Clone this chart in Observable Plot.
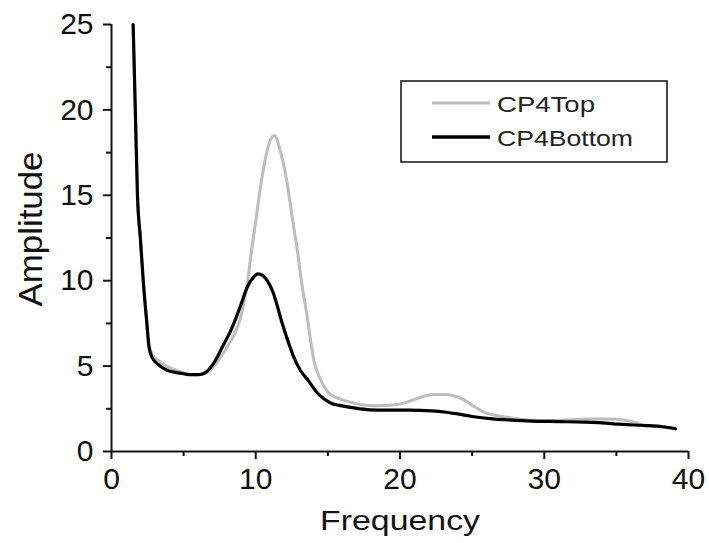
<!DOCTYPE html>
<html><head><meta charset="utf-8">
<script src="https://cdn.jsdelivr.net/npm/d3@7"></script>
<script src="https://cdn.jsdelivr.net/npm/@observablehq/plot@0.6"></script>
<style>html,body{margin:0;padding:0;background:#fff;} #chart svg{display:block}</style>
</head><body><div id="chart"></div>
<script>
const seriesNames = ["CP4Top", "CP4Bottom"];
const seriesColors = ["#bdbdbd", "#000000"];

const topFreq = [1.5, 1.65, 1.8, 2.0, 2.2, 2.45, 2.6, 2.85, 3.3, 3.8, 4.5, 5.0, 5.5, 6.0, 6.5, 7.2, 7.7, 8.14, 8.6, 8.95, 9.41, 9.7, 10.0, 10.33, 10.68, 11.0, 11.3, 11.7, 12.18, 12.53, 12.88, 13.2, 13.57, 13.8, 14.04, 14.5, 14.98, 15.6, 16.3, 17.2, 18.2, 19.5, 20.5, 21.1, 22.3, 23.2, 23.8, 24.5, 25.2, 25.8, 26.75, 27.8, 28.8, 30.5, 33.0, 34.5, 35.5, 36.2, 36.9, 38.2, 39.1];
const topAmp = [25, 20, 15, 12.5, 10, 7.6, 6.3, 5.65, 5.3, 5.0, 4.75, 4.6, 4.5, 4.5, 4.55, 5.1, 5.7, 6.3, 7.0, 7.86, 9.8, 11.7, 13.5, 15.5, 17.2, 18.2, 18.5, 17.6, 15.7, 13.7, 11.8, 9.8, 7.86, 6.5, 5.3, 4.2, 3.5, 3.15, 2.95, 2.75, 2.68, 2.72, 2.89, 3.08, 3.34, 3.34, 3.25, 2.99, 2.6, 2.3, 2.1, 1.95, 1.85, 1.82, 1.9, 1.9, 1.85, 1.72, 1.55, 1.45, 1.33];

const bottomFreq = [1.5, 1.65, 1.8, 2.0, 2.2, 2.45, 2.6, 2.85, 3.3, 3.87, 4.5, 5.0, 5.5, 6.0, 6.5, 7.2, 7.67, 8.25, 8.6, 8.95, 9.4, 9.9, 10.15, 10.5, 10.8, 11.23, 11.5, 11.8, 12.3, 12.6, 13.1, 13.64, 14.2, 14.7, 15.3, 15.8, 16.8, 17.9, 19.0, 20.6, 22.2, 23.2, 24.0, 25.0, 26.4, 27.5, 29.1, 31.0, 32.8, 34.0, 35.2, 36.2, 37.1, 38.2, 39.1];
const bottomAmp = [25, 20, 15, 12.5, 10, 7.5, 6.1, 5.45, 5.05, 4.75, 4.62, 4.55, 4.5, 4.5, 4.62, 5.33, 6.1, 7.05, 7.75, 8.55, 9.6, 10.25, 10.4, 10.3, 10.0, 9.25, 8.5, 7.6, 6.3, 5.6, 4.74, 4.16, 3.5, 3.1, 2.8, 2.7, 2.55, 2.44, 2.42, 2.42, 2.38, 2.3, 2.2, 2.05, 1.91, 1.85, 1.78, 1.75, 1.72, 1.68, 1.6, 1.55, 1.52, 1.45, 1.33];

const xMajorTicks = [0, 10, 20, 30, 40];
const xMinorTicks = [5, 15, 25, 35];
const yMajorTicks = [0, 5, 10, 15, 20, 25];
const yMinorTicks = [2.5, 7.5, 12.5, 17.5, 22.5];
const xLabel = "Frequency";
const yLabel = "Amplitude";

const rows = [
  ...topFreq.map((f, i) => ({series: seriesNames[0], freq: f, amp: topAmp[i]})),
  ...bottomFreq.map((f, i) => ({series: seriesNames[1], freq: f, amp: bottomAmp[i]}))
];

const axisColor = "#111";
const font = "'Liberation Sans', Arial, sans-serif";

const plot = Plot.plot({
  width: 709, height: 543,
  marginLeft: 111, marginRight: 21, marginTop: 24, marginBottom: 92,
  style: {fontFamily: font, background: "#fff", color: axisColor},
  x: {domain: [0, 40]},
  y: {domain: [0, 25]},
  color: {domain: seriesNames, range: seriesColors},
  marks: [
    Plot.line(rows.filter(d => d.series === seriesNames[0]), {x: "freq", y: "amp", stroke: "series", strokeWidth: 3, curve: "monotone-x"}),
    Plot.line(rows.filter(d => d.series === seriesNames[1]), {x: "freq", y: "amp", stroke: "series", strokeWidth: 3.2, curve: "monotone-x"}),
    Plot.ruleX([0], {stroke: axisColor, strokeWidth: 2}),
    Plot.ruleY([0], {stroke: axisColor, strokeWidth: 2}),
    Plot.axisX({ticks: xMajorTicks, tickSize: 8, tickPadding: 8, fontSize: 30, label: null, stroke: axisColor, strokeWidth: 2}),
    Plot.axisX({ticks: xMinorTicks, tickSize: 5, tickFormat: () => "", label: null, stroke: axisColor, strokeWidth: 2}),
    Plot.axisY({ticks: yMajorTicks, tickSize: 8, tickPadding: 10, fontSize: 30, label: null, stroke: axisColor, strokeWidth: 2}),
    Plot.axisY({ticks: yMinorTicks, tickSize: 5, tickFormat: () => "", label: null, stroke: axisColor, strokeWidth: 2})
  ]
});

const svg = d3.select(plot);
svg.append("text")
  .attr("x", 400).attr("y", 530)
  .attr("text-anchor", "middle")
  .attr("font-family", font).attr("font-size", 28)
  .attr("textLength", 160).attr("lengthAdjust", "spacingAndGlyphs")
  .attr("fill", axisColor)
  .text(xLabel);
svg.append("text")
  .attr("transform", "translate(42,229) rotate(-90)")
  .attr("text-anchor", "middle")
  .attr("font-family", font).attr("font-size", 34)
  .attr("textLength", 155).attr("lengthAdjust", "spacingAndGlyphs")
  .attr("fill", axisColor)
  .text(yLabel);

// legend
const lg = svg.append("g").attr("text-anchor", "start");
lg.append("rect").attr("x", 401).attr("y", 81).attr("width", 266).attr("height", 81)
  .attr("fill", "#fff").attr("stroke", axisColor).attr("stroke-width", 1.5);
const legendLens = [98, 136];
seriesNames.forEach((name, i) => {
  const y = 103 + i * 34;
  lg.append("line").attr("x1", 432).attr("x2", 490).attr("y1", y).attr("y2", y)
    .attr("stroke", seriesColors[i]).attr("stroke-width", i ? 3.5 : 3);
  lg.append("text").attr("x", 497).attr("y", y + 8.5)
    .attr("text-anchor", "start")
    .attr("font-family", font).attr("font-size", 22)
    .attr("textLength", legendLens[i]).attr("lengthAdjust", "spacingAndGlyphs")
    .attr("fill", "#222").text(name);
});

document.getElementById("chart").appendChild(plot);
</script>
</body></html>
